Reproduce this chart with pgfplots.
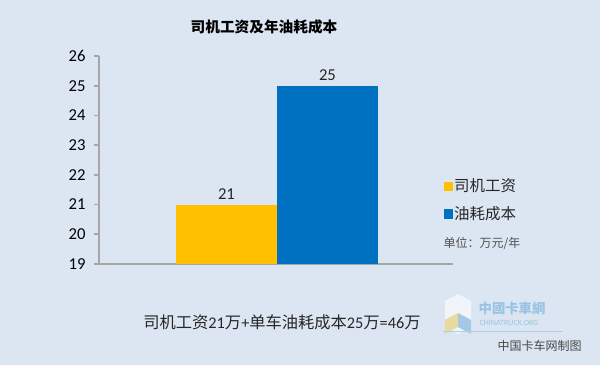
\documentclass[border=0pt]{standalone}
\usepackage{pgfplots}
\pgfplotsset{compat=1.18}
\usepackage{fontspec}
\setmainfont{Carlito}
\newfontfamily\cjk{Noto Sans CJK SC}
\definecolor{bg}{HTML}{DCE6F2}
\definecolor{yel}{HTML}{FFC000}
\definecolor{blu}{HTML}{0070C0}
\definecolor{axc}{HTML}{A6A6A6}
\definecolor{txt}{HTML}{262626}
\begin{document}
\begin{tikzpicture}[x=0.75pt,y=0.75pt]
\fill[bg] (0,0) rectangle (600,365);
\begin{axis}[
  at={(74.25pt,75.75pt)}, anchor=south west,
  scale only axis, width=265.5pt, height=156pt,
  xmin=-1.262, xmax=2.243, ymin=19, ymax=26,
  ytick={19,20,...,26}, xtick=\empty,
  axis x line*=bottom, axis y line*=left,
  axis line style={axc, line width=1.2pt, -},
  y tick style={axc, line width=1.2pt},
  tick align=outside, major tick length=4pt,
  yticklabel style={font=\fontsize{12.5}{14}\selectfont, text=black, xshift=-2.5pt},
  /pgf/number format/assume math mode=true,
  legend style={at={(0.962,0.43)}, anchor=north west, draw=none, fill=none,
    font=\cjk\fontsize{11.6}{13}\selectfont, text=txt, row sep=7.5pt,
    nodes={inner sep=1pt}},
  legend cell align=left,
  legend image code/.code={\fill[#1,draw=none] (0pt,-3.4pt) rectangle (6.8pt,3.4pt);},
  nodes near coords,
  every node near coord/.append style={font=\fontsize{12.5}{14}\selectfont, text=txt},
]
\addplot[ybar, bar width=1, bar shift=0pt, fill=yel, draw=none] coordinates {(0,21)};
\addlegendentry{司机工资}
\addplot[ybar, bar width=1, bar shift=0pt, fill=blu, draw=none] coordinates {(1,25)};
\addlegendentry{油耗成本}
\end{axis}
\node[font=\cjk\bfseries\fontsize{11}{13}\selectfont, text=black] at (264,338) {司机工资及年油耗成本};
\node[anchor=west, font=\cjk\fontsize{9}{10}\selectfont, text=txt!80] at (439,122) {单位：万元/年};
\node[font=\fontsize{12.2}{14}\selectfont, text=txt] at (282,43) {{\cjk 司机工资}21{\cjk 万}+{\cjk 单车油耗成本}25{\cjk 万}=46{\cjk 万}};
% watermark
\fill[white!60!bg] (445,64) -- (458,71) -- (471,64) -- (471,38) -- (458,31) -- (445,38) -- cycle;
\fill[yel!35!bg] (445,45) -- (458,52) -- (458,38) -- (445,31) -- cycle;
\fill[blu!25!bg] (458,52) -- (471,45) -- (471,31) -- (458,38) -- cycle;
\node[anchor=west, font=\cjk\bfseries\fontsize{10}{12}\selectfont, text=blu!30!bg] at (474,57) {中國卡車網};
\node[anchor=west, font=\fontsize{6}{7}\selectfont, text=blu!30!bg] at (475,42) {CHINATRUCK.ORG};
\draw[blu!20!bg, line width=0.6pt] (443,34) -- (563,34);
\node[anchor=west, font=\cjk\fontsize{9}{11}\selectfont, text=txt!85] at (493,19) {中国卡车网制图};
\end{tikzpicture}
\end{document}
